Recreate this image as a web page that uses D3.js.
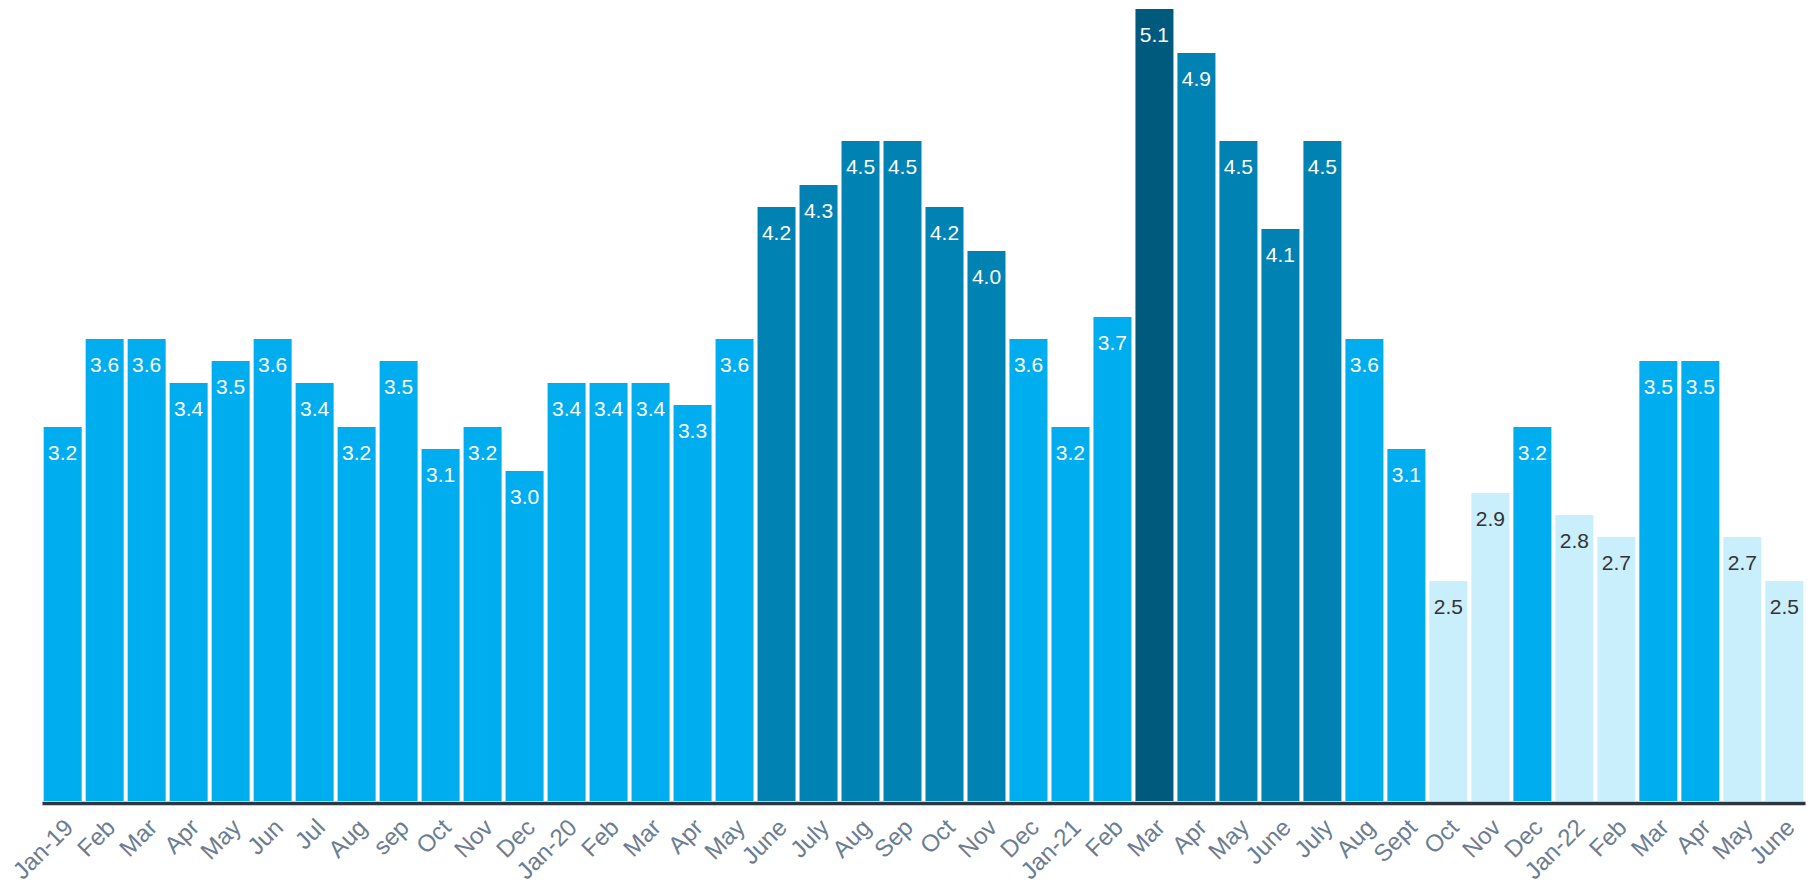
<!DOCTYPE html>
<html>
  <head>
    <title>Monthly values</title>
    <script src="https://d3js.org/d3.v7.min.js" charset="utf-8"></script>
    <style>
      body { margin: 0; background: #fff; }
      text { font-family: "Liberation Sans", Arial, sans-serif; }
    </style>
  </head>
  <body>
    <script>
      // month labels, in order
      var months = ["Jan-19","Feb","Mar","Apr","May","Jun","Jul","Aug","sep","Oct","Nov","Dec",
                    "Jan-20","Feb","Mar","Apr","May","June","July","Aug","Sep","Oct","Nov","Dec",
                    "Jan-21","Feb","Mar","Apr","May","June","July","Aug","Sept","Oct","Nov","Dec",
                    "Jan-22","Feb","Mar","Apr","May","June"];

      var values = [3.2,3.6,3.6,3.4,3.5,3.6,3.4,3.2,3.5,3.1,3.2,3.0,
                    3.4,3.4,3.4,3.3,3.6,4.2,4.3,4.5,4.5,4.2,4.0,3.6,
                    3.2,3.7,5.1,4.9,4.5,4.1,4.5,3.6,3.1,2.5,2.9,3.2,
                    2.8,2.7,3.5,3.5,2.7,2.5];

      // colour bands by value
      var bandLimits = [3, 4, 5];
      var bandColors = ["#c9eefc", "#00aeef", "#0083b3", "#005a7d"];
      var labelColors = ["#333333", "#ffffff", "#ffffff", "#ffffff"];

      var width = 1814;
      var height = 885;
      var margin = {left: 42, right: 9, top: 0, bottom: 84};

      var svg = d3.select("body")
        .append("svg")
        .attr("width", width)
        .attr("height", height);

      var ids = months.map(function(d, i){ return i; });

      var x = d3.scaleBand()
        .domain(ids)
        .range([margin.left, width - margin.right])
        .paddingInner(0.095)
        .paddingOuter(0.04);

      var y = d3.scaleLinear()
        .domain([1.5, 5.1])
        .range([801, 9]);

      var fill = d3.scaleThreshold().domain(bandLimits).range(bandColors);
      var ink = d3.scaleThreshold().domain(bandLimits).range(labelColors);

      var bars = svg.append("g");

      bars.selectAll("rect")
        .data(values)
        .enter()
        .append("rect")
        .attr("x", function(d, i){ return x(i); })
        .attr("y", function(d){ return y(d); })
        .attr("width", x.bandwidth())
        .attr("height", function(d){ return y(1.5) - y(d); })
        .attr("fill", function(d){ return fill(d); });

      // value labels inside the top of each bar
      bars.selectAll("text")
        .data(values)
        .enter()
        .append("text")
        .attr("x", function(d, i){ return x(i) + x.bandwidth() / 2; })
        .attr("y", function(d){ return y(d) + 33; })
        .attr("text-anchor", "middle")
        .attr("font-size", "21px")
        .attr("fill", function(d){ return ink(d); })
        .text(function(d){ return d.toFixed(1); });

      // x axis
      var xAxis = d3.axisBottom(x)
        .tickSize(0)
        .tickFormat(function(i){ return months[i]; });

      var ax = svg.append("g")
        .attr("transform", "translate(0,803)")
        .call(xAxis);

      ax.select(".domain")
        .attr("stroke", "#2b3640")
        .attr("stroke-width", 3.5);

      ax.selectAll("text")
        .attr("font-size", "24px")
        .attr("fill", "#6b7d90")
        .attr("text-anchor", "end")
        .attr("dy", "0.35em")
        .attr("y", 0)
        .attr("transform", "translate(6,20) rotate(-45)");
    </script>
  </body>
</html>
